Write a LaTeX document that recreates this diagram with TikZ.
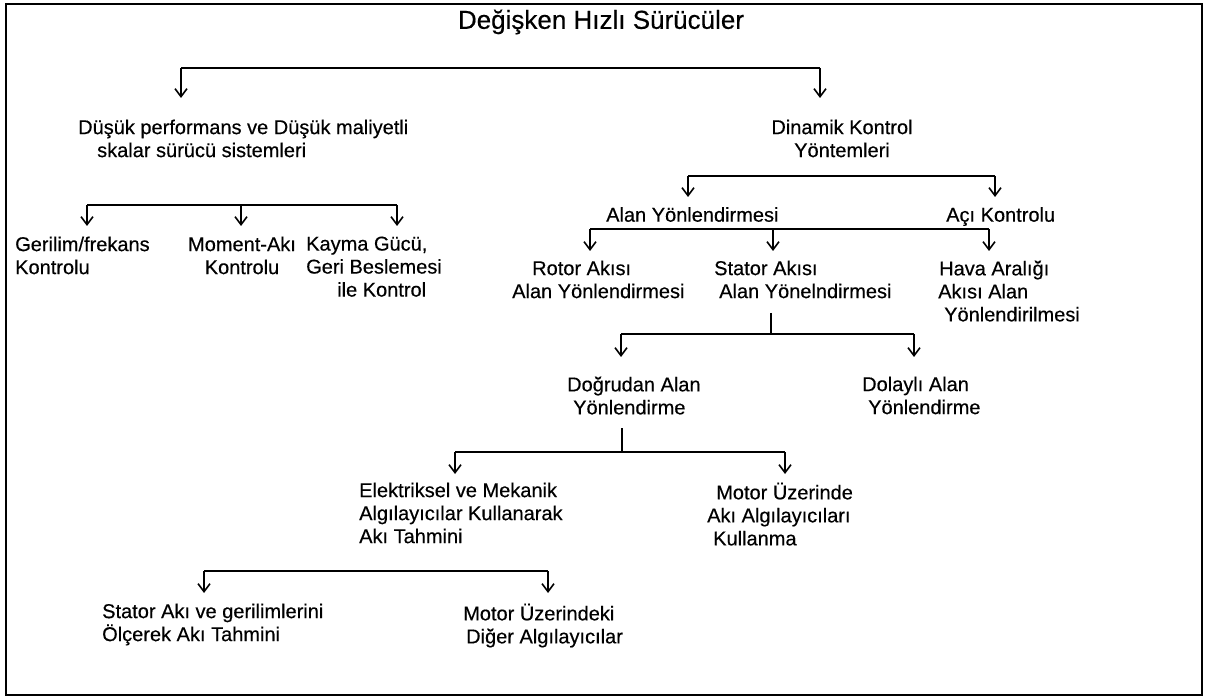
\documentclass[tikz,border=0pt]{standalone}
\usepackage{fontspec}
\setmainfont{Liberation Sans}[FakeBold=0.4]
\usetikzlibrary{arrows.meta}
\begin{document}
\begin{tikzpicture}[x=1pt,y=-1pt,
  lbl/.style={inner sep=0pt, anchor=north west, align=left,
    font=\fontsize{20}{23}\selectfont, execute at begin node=\strut},
  bar/.style={line width=1.8pt},
  arr/.style={line width=1.6pt, -{Straight Barb[length=8pt,width=12pt,line width=1.6pt]}},
  stem/.style={line width=1.4pt}]
\useasboundingbox (0,0) rectangle (1207,700);
% outer frame
\draw[line width=2.2pt] (6,4) rectangle (1202,695);

% title
\node[inner sep=0pt, font=\fontsize{26}{30}\selectfont] (root) at (601,22) {Değişken Hızlı Sürücüler};

% level 1
\node[lbl] (low) at (78,119.4) {Düşük performans ve Düşük maliyetli\\\hspace*{19pt}skalar sürücü sistemleri};
\node[lbl, align=center, anchor=north] (dyn) at (842,119.4) {Dinamik Kontrol\\Yöntemleri};

% scalar methods
\node[lbl] (gf) at (15,236.4) {Gerilim/frekans\\Kontrolu};
\node[lbl, align=center, anchor=north] (ma) at (242,236.4) {Moment-Akı\\Kontrolu};
\node[lbl] (kg) at (306,236.4) {Kayma Gücü,\\Geri Beslemesi\\\hspace*{31pt}ile Kontrol};

% dynamic methods
\node[lbl] (alan) at (606,205.4) {Alan Yönlendirmesi};
\node[lbl] (aci) at (946,205.4) {Açı Kontrolu};

\node[lbl] (rotor) at (512,260.4) {\hspace*{20pt}Rotor Akısı\\Alan Yönlendirmesi};
\node[lbl] (stator) at (714,260.4) {Stator Akısı\\\hspace*{5pt}Alan Yönelndirmesi};
\node[lbl] (hava) at (938,260.4) {\hspace*{1pt}Hava Aralığı\\Akısı Alan\\\hspace*{6pt}Yönlendirilmesi};

\node[lbl] (dogru) at (567,376.4) {Doğrudan Alan\\\hspace*{6pt}Yönlendirme};
\node[lbl] (dolayli) at (862,376.4) {Dolaylı Alan\\\hspace*{6pt}Yönlendirme};

\node[lbl] (elek) at (359,482.4) {Elektriksel ve Mekanik\\Algılayıcılar Kullanarak\\Akı Tahmini};
\node[lbl] (motor1) at (707,482.4) {\hspace*{9pt}Motor Üzerinde\\Akı Algılayıcıları\\\hspace*{6pt}Kullanma};

\node[lbl] (stak) at (102,603.4) {Stator Akı ve gerilimlerini\\Ölçerek Akı Tahmini};
\node[lbl] (motor2) at (463,603.4) {Motor Üzerindeki\\\hspace*{3pt}Diğer Algılayıcılar};

% ---- connectors ----
% root -> level 1
\coordinate (r-l) at (181,68);  \coordinate (r-r) at (820,68);
\coordinate (to-low) at (181,98); \coordinate (to-dyn) at (820,98);
\draw[bar] (r-l) -- (r-r);
\draw[arr] (r-l) -- (to-low);
\draw[arr] (r-r) -- (to-dyn);

% scalar branch
\coordinate (s-l) at (87,205); \coordinate (s-m) at (241,205); \coordinate (s-r) at (397,205);
\coordinate (to-gf) at (87,226); \coordinate (to-ma) at (241,226); \coordinate (to-kg) at (397,226);
\draw[bar] (s-l) -- (s-r);
\draw[arr] (s-l) -- (to-gf);
\draw[arr] (s-m) -- (to-ma);
\draw[arr] (s-r) -- (to-kg);

% dynamic branch
\coordinate (d-l) at (688,176); \coordinate (d-r) at (995,176);
\coordinate (to-alan) at (688,197); \coordinate (to-aci) at (995,197);
\draw[bar] (d-l) -- (d-r);
\draw[arr] (d-l) -- (to-alan);
\draw[arr] (d-r) -- (to-aci);

% field orientation branch
\coordinate (a-l) at (590,229); \coordinate (a-m) at (773,229); \coordinate (a-r) at (989,229);
\coordinate (to-rotor) at (590,251); \coordinate (to-stator) at (773,251); \coordinate (to-hava) at (989,251);
\draw[bar] (a-l) -- (a-r);
\draw[arr] (a-l) -- (to-rotor);
\draw[arr] (a-m) -- (to-stator);
\draw[arr] (a-r) -- (to-hava);

% stator flux branch
\coordinate (st-top) at (771,313); \coordinate (st-j) at (771,334);
\coordinate (st-l) at (621,334); \coordinate (st-r) at (914,334);
\coordinate (to-dogru) at (621,357); \coordinate (to-dolayli) at (914,357);
\draw[stem] (st-top) -- (st-j);
\draw[bar] (st-l) -- (st-r);
\draw[arr] (st-l) -- (to-dogru);
\draw[arr] (st-r) -- (to-dolayli);

% direct field orientation branch
\coordinate (dg-top) at (622,428); \coordinate (dg-j) at (622,452);
\coordinate (dg-l) at (455,452); \coordinate (dg-r) at (785,452);
\coordinate (to-elek) at (455,474); \coordinate (to-motor1) at (785,474);
\draw[stem] (dg-top) -- (dg-j);
\draw[bar] (dg-l) -- (dg-r);
\draw[arr] (dg-l) -- (to-elek);
\draw[arr] (dg-r) -- (to-motor1);

% flux estimation branch
\coordinate (e-l) at (204,571); \coordinate (e-r) at (548,571);
\coordinate (to-stak) at (204,593); \coordinate (to-motor2) at (548,593);
\draw[bar] (e-l) -- (e-r);
\draw[arr] (e-l) -- (to-stak);
\draw[arr] (e-r) -- (to-motor2);
\end{tikzpicture}
\end{document}
